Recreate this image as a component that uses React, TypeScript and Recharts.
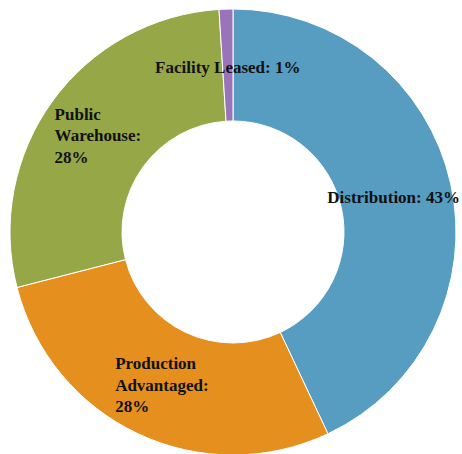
import { PieChart, Pie, Cell } from "recharts"

const CATEGORIES = ["Distribution", "Production Advantaged", "Public Warehouse", "Facility Leased"]
const SHARES = [43, 28, 28, 1]
// slices whose label is broken one word per line
const WRAPPED = [false, true, true, false]

const COLORS = ["#579CC1", "#E48F1E", "#96A748", "#9A74B8"]

const FONT_SIZE = 17
const LINE_HEIGHT = 21.5
const FONT_FAMILY = '"Liberation Serif", "Times New Roman", Times, serif'
const RADIAN = Math.PI / 180

const data = CATEGORIES.map((name, i) => ({ name, value: SHARES[i], wrapped: WRAPPED[i] }))

let ctx: CanvasRenderingContext2D | null = null
function textWidth(s: string) {
  if (!ctx) ctx = document.createElement("canvas").getContext("2d")
  if (!ctx) return s.length * FONT_SIZE * 0.5
  ctx.font = `bold ${FONT_SIZE}px ${FONT_FAMILY}`
  return ctx.measureText(s).width
}

// label block sits in the middle of the ring, left-aligned lines centred as a group
function renderLabel(props: any) {
  const { cx, cy, midAngle, innerRadius, outerRadius, index } = props
  const d = data[index]
  const r = (innerRadius + outerRadius) / 2
  const x = cx + r * Math.cos(-midAngle * RADIAN)
  const y = cy + r * Math.sin(-midAngle * RADIAN)

  const lines = d.wrapped
    ? [...d.name.split(" ").map((w, i, arr) => (i === arr.length - 1 ? `${w}:` : w)), `${d.value}%`]
    : [`${d.name}: ${d.value}%`]

  const blockW = Math.max(...lines.map(textWidth))
  const left = Math.min(x - blockW / 2, 460 - blockW)
  const firstBaseline = y - ((lines.length - 1) * LINE_HEIGHT) / 2 + FONT_SIZE * 0.45

  return (
    <text
      key={`label-${index}`}
      style={{ fontFamily: FONT_FAMILY, fontWeight: 700, fontSize: FONT_SIZE }}
      fill="#111"
    >
      {lines.map((line, i) => (
        <tspan key={i} x={left} y={firstBaseline + i * LINE_HEIGHT}>
          {line}
        </tspan>
      ))}
    </text>
  )
}

export default function App() {
  return (
    <div style={{ position: "absolute", left: 0, top: 0, width: 462, height: 454, background: "#fff" }}>
      <PieChart
        width={462}
        height={454}
        margin={{ top: 0, right: 0, bottom: 0, left: 0 }}
        style={{ overflow: "visible" }}
      >
        <Pie
          data={data}
          dataKey="value"
          nameKey="name"
          cx={233}
          cy={232}
          innerRadius={111}
          outerRadius={223}
          startAngle={90}
          endAngle={-270}
          stroke="#fff"
          strokeWidth={1}
          label={renderLabel}
          labelLine={false}
          isAnimationActive={false}
        >
          {data.map((d, i) => (
            <Cell key={d.name} fill={COLORS[i]} />
          ))}
        </Pie>
      </PieChart>
    </div>
  )
}
